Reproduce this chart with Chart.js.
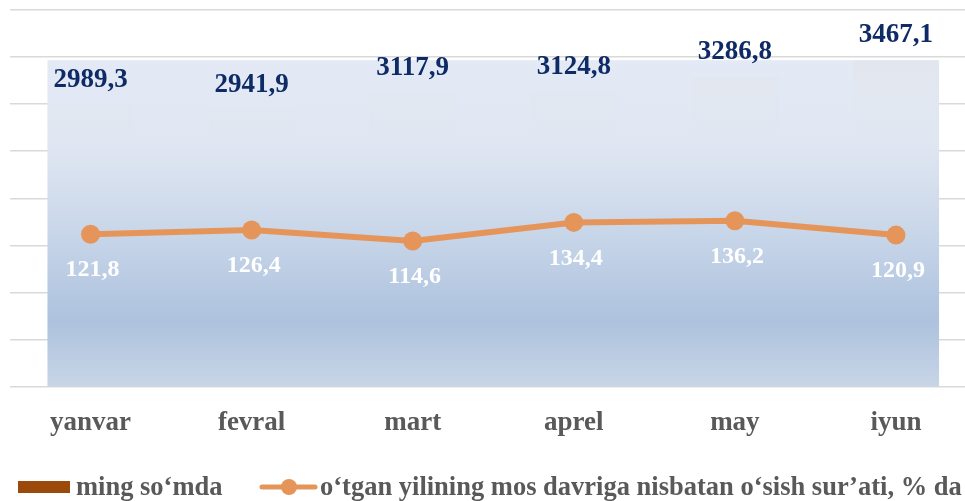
<!DOCTYPE html>
<html>
<head>
<meta charset="utf-8">
<script src="https://cdn.jsdelivr.net/npm/chart.js@4/dist/chart.umd.min.js"></script>
<style>
html,body{margin:0;padding:0;background:#fff;overflow:hidden;width:965px;height:501px;}
canvas{display:block;}
</style>
</head>
<body>
<canvas id="c" width="986" height="501"></canvas>
<script>
const categories = ['yanvar', 'fevral', 'mart', 'aprel', 'may', 'iyun'];
const valueLabel = 'ming so‘mda';
const values = [2989.3, 2941.9, 3117.9, 3124.8, 3286.8, 3467.1];
const growthLabel = 'o‘tgan yilining mos davriga nisbatan o‘sish sur’ati, % da';
const growth = [121.8, 126.4, 114.6, 134.4, 136.2, 120.9];
const yTicks = [0, 500, 1000, 1500, 2000, 2500, 3000, 3500, 4000];

const SERIF = '"Liberation Serif", "Times New Roman", serif';
const ORANGE = '#E6955A';
const BROWN = '#9C4A0B';
const fmt = v => v.toFixed(1).replace('.', ',');

const bgPlugin = {
  id: 'bgFill',
  beforeDatasetsDraw(chart) {
    const meta = chart.getDatasetMeta(0);
    const els = meta.data;
    if (!els.length) return;
    const ctx = chart.ctx;
    const left = els[0].x - els[0].width / 2;
    const right = els[els.length - 1].x + els[els.length - 1].width / 2;
    let top = Math.min(...els.map(e => e.y));
    const bottom = chart.scales.y.getPixelForValue(0);
    const g = ctx.createLinearGradient(0, top, 0, bottom);
    g.addColorStop(0, '#e3eaf5');
    g.addColorStop(0.25, '#e0e7f2');
    g.addColorStop(0.5, '#cbd8ea');
    g.addColorStop(0.8, '#adc2de');
    g.addColorStop(1, '#c8d5e6');
    ctx.save();
    ctx.fillStyle = g;
    ctx.fillRect(left, top, right - left, bottom - top);
    ctx.restore();
  }
};

const labelPlugin = {
  id: 'valLabels',
  afterDatasetsDraw(chart) {
    const ctx = chart.ctx;
    ctx.save();
    ctx.textAlign = 'center';
    ctx.textBaseline = 'middle';
    const m0 = chart.getDatasetMeta(0);
    ctx.fillStyle = '#0F2B66';
    ctx.font = 'bold 27px ' + SERIF;
    m0.data.forEach((el, i) => {
      ctx.fillText(fmt(values[i]), el.x, el.y - 25);
    });
    const m1 = chart.getDatasetMeta(1);
    ctx.fillStyle = '#ffffff';
    ctx.font = 'bold 24px ' + SERIF;
    m1.data.forEach((el, i) => {
      ctx.fillText(fmt(growth[i]), el.x + 2, el.y + 36);
    });
    ctx.restore();
  }
};

const legendPlugin = {
  id: 'customLegend',
  afterDraw(chart) {
    const ctx = chart.ctx;
    ctx.save();
    const yc = 487;
    ctx.font = 'bold 26.5px ' + SERIF;
    ctx.fillStyle = BROWN;
    ctx.fillRect(18, yc - 6, 52, 12);
    ctx.fillStyle = '#595959';
    ctx.textBaseline = 'middle';
    ctx.textAlign = 'left';
    ctx.fillText(chart.data.datasets[0].label, 76, yc + 1);
    ctx.strokeStyle = ORANGE;
    ctx.lineWidth = 5;
    ctx.lineCap = 'round';
    ctx.beginPath();
    ctx.moveTo(262, yc);
    ctx.lineTo(315, yc);
    ctx.stroke();
    ctx.fillStyle = ORANGE;
    ctx.beginPath();
    ctx.arc(289, yc, 8, 0, Math.PI * 2);
    ctx.fill();
    ctx.fillStyle = '#595959';
    ctx.fillText(chart.data.datasets[1].label, 320, yc + 1);
    ctx.restore();
  }
};

new Chart(document.getElementById('c'), {
  data: {
    labels: categories,
    datasets: [
      {
        type: 'bar',
        label: valueLabel,
        data: values,
        yAxisID: 'y',
        order: 2,
        categoryPercentage: 1,
        barPercentage: 0.535,
        backgroundColor(ctx) {
          const ch = ctx.chart;
          const a = ch.chartArea;
          if (!a) return 'rgba(0,0,0,0)';
          const g = ch.ctx.createLinearGradient(0, a.top + 45, 0, a.top + 140);
          g.addColorStop(0, 'rgba(226,228,234,0.75)');
          g.addColorStop(0.6, 'rgba(226,229,238,0.35)');
          g.addColorStop(1, 'rgba(226,229,238,0)');
          return g;
        },
        borderWidth: 0
      },
      {
        type: 'line',
        label: growthLabel,
        data: growth,
        yAxisID: 'y1',
        order: 1,
        borderColor: ORANGE,
        backgroundColor: ORANGE,
        borderWidth: 6,
        pointRadius: 9.5,
        pointBackgroundColor: ORANGE,
        pointBorderColor: ORANGE,
        pointBorderWidth: 0,
        tension: 0
      }
    ]
  },
  options: {
    responsive: false,
    animation: false,
    layout: { padding: { left: 10, top: 10, right: 1, bottom: 42 } },
    plugins: {
      legend: { display: false },
      tooltip: { enabled: false }
    },
    scales: {
      x: {
        grid: { display: false, drawTicks: false },
        border: { display: false },
        ticks: {
          color: '#595959',
          font: { family: SERIF, size: 27, weight: 'bold' },
          padding: 20,
          maxRotation: 0
        }
      },
      y: {
        min: yTicks[0],
        max: yTicks[yTicks.length - 1],
        afterBuildTicks(axis) { axis.ticks = yTicks.map(v => ({ value: v })); },
        ticks: { display: false },
        grid: { color: '#d9d9d9', lineWidth: 1.5, drawTicks: false },
        border: { display: false }
      },
      y1: {
        display: false,
        min: -40,
        max: 360
      }
    }
  },
  plugins: [bgPlugin, labelPlugin, legendPlugin]
});
</script>
</body>
</html>
